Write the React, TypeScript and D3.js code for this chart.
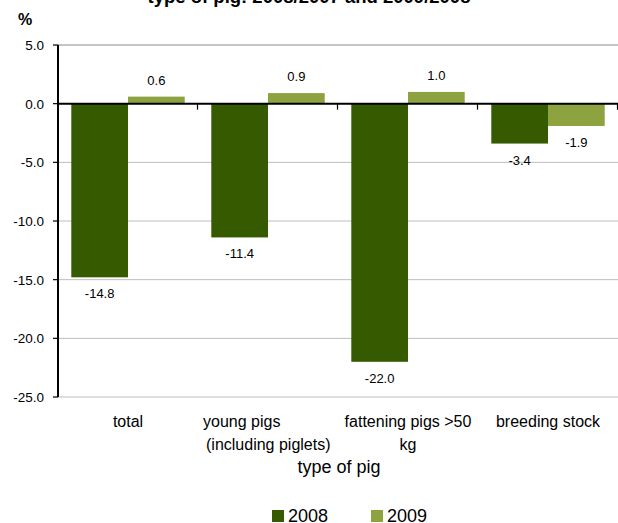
import React from "react";
import * as d3 from "d3";

const categories = [["total"], ["young pigs", "(including piglets)"], ["fattening pigs >50", "kg"], ["breeding stock"]];
const seriesNames = ["2008", "2009"];
const values2008 = [-14.8, -11.4, -22.0, -3.4];
const values2009 = [0.6, 0.9, 1.0, -1.9];
const yTicks = [5, 0, -5, -10, -15, -20, -25];
const colors = ["#355a00", "#8ca33f"];
const titleText = "type of pig: 2008/2007 and 2009/2008";

const W = 618, H = 523;
const left = 58, right = 618, top = 45, bottom = 397;

export default function App() {
  const y = d3.scaleLinear().domain([-25, 5]).range([bottom, top]);
  const x0 = d3.scaleBand().domain(categories.map((_, i) => String(i))).range([left, right]).paddingInner(0.19).paddingOuter(0.095);
  const x1 = d3.scaleBand().domain(seriesNames).range([0, x0.bandwidth()]);
  const series = [values2008, values2009];
  const font = "'Liberation Sans', Arial, sans-serif";
  const edges = d3.range(categories.length + 1).map(i => left + (i * (right - left)) / categories.length);
  const labelStart = [null, 62, null, null];
  return (
    <svg width={W} height={H} style={{ position: "absolute", left: 0, top: 0 }} fontFamily={font}>
      <text x={309} y={3} textAnchor="middle" fontWeight="bold" fontSize={18.5}>{titleText}</text>
      <text x={18} y={25} fontWeight="bold" fontSize={16}>%</text>
      {yTicks.map(t => (
        <g key={t}>
          {t !== 0 && <line x1={left} x2={right} y1={y(t)} y2={y(t)} stroke={t === 5 ? "#8c8c8c" : "#bcbcbc"} strokeWidth={1} />}
          <line x1={left - 5} x2={left} y1={y(t)} y2={y(t)} stroke="#000" strokeWidth={1.2} />
          <text x={44} y={y(t) + 5} textAnchor="end" fontSize={13.5}>{t.toFixed(1)}</text>
        </g>
      ))}
      {series.map((vals, si) =>
        vals.map((v, ci) => {
          const bx = (x0(String(ci)) as number) + (x1(seriesNames[si]) as number);
          const bw = x1.bandwidth();
          const y0 = y(0), yv = y(v);
          return (
            <g key={`${si}-${ci}`}>
              <rect x={bx} y={Math.min(y0, yv)} width={bw} height={Math.abs(yv - y0)} fill={colors[si]} />
              <text x={bx + bw / 2} y={v >= 0 ? yv - 12 : yv + 21} textAnchor="middle" fontSize={13}>{v.toFixed(1)}</text>
            </g>
          );
        })
      )}
      <line x1={left} x2={right} y1={y(0)} y2={y(0)} stroke="#000" strokeWidth={2} />
      {edges.slice(1).map((e, i) => (
        <line key={i} x1={e - 0.5} x2={e - 0.5} y1={y(0)} y2={y(0) + 6} stroke="#000" strokeWidth={1.2} />
      ))}
      <line x1={left} x2={left} y1={top} y2={bottom} stroke="#000" strokeWidth={2} />
      {categories.map((lines, ci) => {
        const cx = (x0(String(ci)) as number) + x0.bandwidth() / 2;
        const st = labelStart[ci];
        const lx = st == null ? cx : cx - st;
        return (
          <text key={ci} x={lx} y={427} textAnchor={st == null ? "middle" : "start"} fontSize={16}>
            {lines.map((l, li) => (
              <tspan key={li} x={li === 0 && st != null ? lx - 3 : lx} dy={li === 0 ? 0 : 23}>{l}</tspan>
            ))}
          </text>
        );
      })}
      <text x={339} y={473} textAnchor="middle" fontSize={18}>type of pig</text>
      {seriesNames.map((s, i) => (
        <g key={s} transform={`translate(${272 + i * 99},0)`}>
          <rect x={0} y={510} width={12} height={12} fill={colors[i]} />
          <text x={16} y={522} fontSize={18}>{s}</text>
        </g>
      ))}
    </svg>
  );
}
